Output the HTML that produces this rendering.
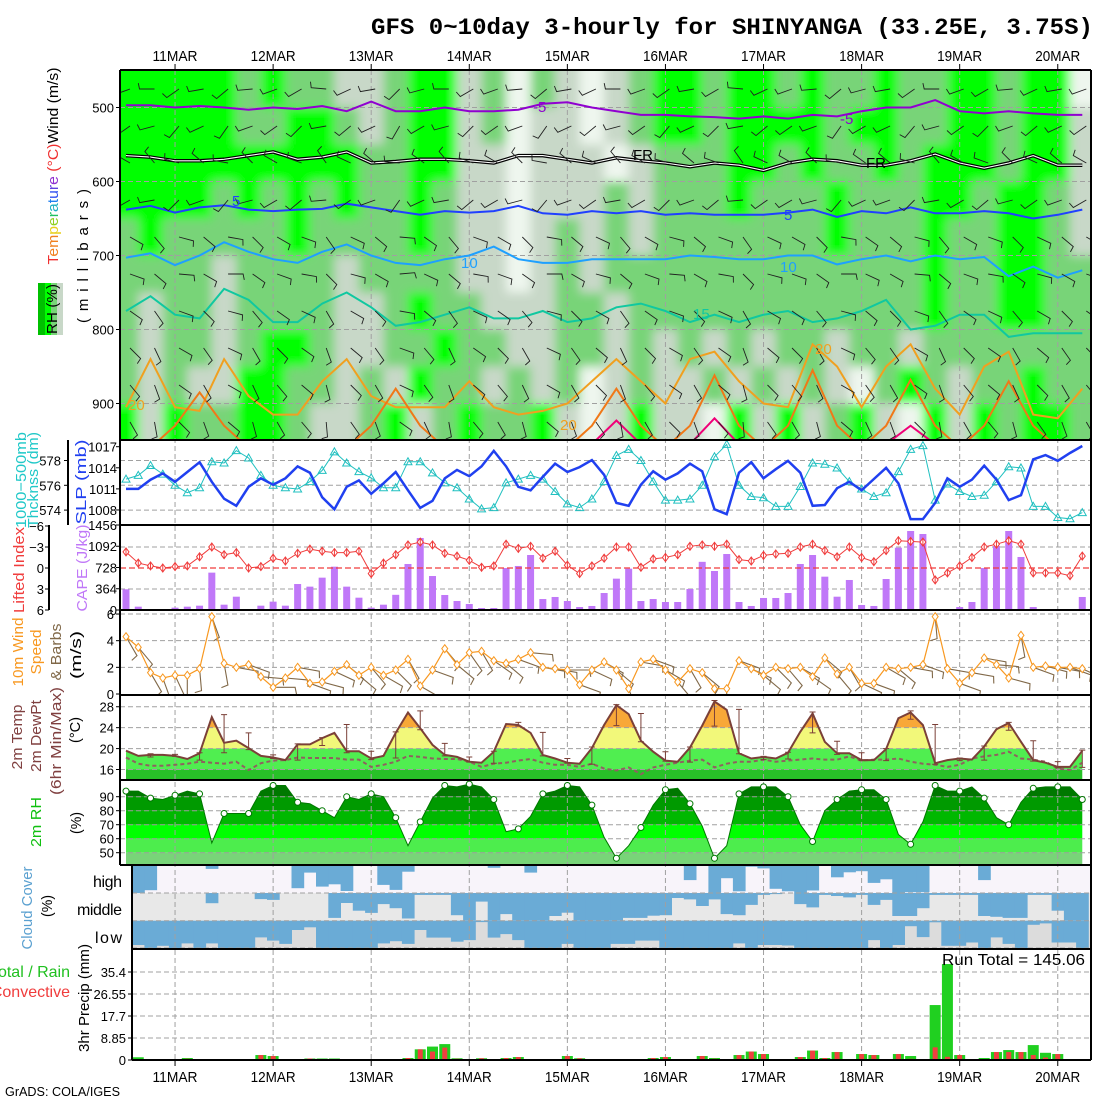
<!DOCTYPE html>
<html><head><meta charset="utf-8">
<style>
body{margin:0;background:#fff}
svg{display:block;font-family:"Liberation Sans",sans-serif}
.rl{font-size:15px}
.tk{font-size:13px;text-anchor:end}
</style></head>
<body>
<svg id="chart" width="1100" height="1100" viewBox="0 0 1100 1100">
<rect x="0" y="0" width="1100" height="1100" fill="#ffffff"/>
<defs id="defs">
<clipPath id="c1"><rect x="120" y="70" width="971" height="370"/></clipPath>
<clipPath id="c4"><rect x="120" y="610" width="971" height="85"/></clipPath>
<filter id="soft" x="-5%" y="-5%" width="110%" height="110%"><feGaussianBlur stdDeviation="5"/></filter>
</defs>
<g id="plots"></g>

<text x="732" y="34" font-family="Liberation Mono, monospace" font-size="23" font-weight="bold" text-anchor="middle" textLength="722" lengthAdjust="spacingAndGlyphs">GFS 0~10day 3-hourly for SHINYANGA (33.25E, 3.75S)</text>

<g>
<rect x="38" y="283" width="7" height="52" fill="#00c000"/><rect x="45" y="283" width="6" height="52" fill="#00ff00"/><rect x="51" y="283" width="6" height="52" fill="#78d478"/><rect x="57" y="283" width="6" height="52" fill="#c8d8c8"/>
</g>
<text class="rl" transform="translate(57,309) rotate(-90)" text-anchor="middle" textLength="50">RH (%)</text>
<text class="rl" transform="translate(58,166) rotate(-90)" text-anchor="middle" textLength="197" lengthAdjust="spacingAndGlyphs"><tspan fill="#f03030">T</tspan><tspan fill="#f08020">em</tspan><tspan fill="#e8d020">p</tspan><tspan fill="#90d020">e</tspan><tspan fill="#20c060">r</tspan><tspan fill="#20b0c0">a</tspan><tspan fill="#2080f0">t</tspan><tspan fill="#3050f0">u</tspan><tspan fill="#6040e0">r</tspan><tspan fill="#9030d0">e</tspan><tspan fill="#f03030"> (°C)</tspan><tspan fill="#000">Wind (m/s)</tspan></text>
<text class="rl" transform="translate(88,256) rotate(-90)" text-anchor="middle" textLength="134" lengthAdjust="spacing">(millibars)</text>
<text class="rl" fill="#20c8c8" transform="translate(26,480) rotate(-90)" text-anchor="middle" textLength="96" lengthAdjust="spacingAndGlyphs">1000−500mb</text>
<text class="rl" fill="#20c8c8" transform="translate(38,480) rotate(-90)" text-anchor="middle" textLength="96" lengthAdjust="spacingAndGlyphs">Thcknss (dm)</text>
<text class="rl" fill="#2040f0" transform="translate(86,482) rotate(-90)" text-anchor="middle" textLength="85" lengthAdjust="spacingAndGlyphs">SLP (mb)</text>
<text class="rl" fill="#f03c3c" transform="translate(24,570) rotate(-90)" text-anchor="middle" textLength="86" lengthAdjust="spacingAndGlyphs">Lifted Index</text>
<text class="rl" fill="#c078f8" transform="translate(87,568) rotate(-90)" text-anchor="middle" textLength="87" lengthAdjust="spacingAndGlyphs">CAPE (J/kg)</text>
<text class="rl" fill="#f89820" transform="translate(23,652) rotate(-90)" text-anchor="middle" textLength="69" lengthAdjust="spacingAndGlyphs">10m Wind</text>
<text class="rl" fill="#f89820" transform="translate(41,652) rotate(-90)" text-anchor="middle" textLength="45" lengthAdjust="spacingAndGlyphs">Speed</text>
<text class="rl" fill="#806848" transform="translate(61,652) rotate(-90)" text-anchor="middle" textLength="57" lengthAdjust="spacingAndGlyphs">&amp; Barbs</text>
<text class="rl" transform="translate(81,655) rotate(-90)" text-anchor="middle" textLength="48" lengthAdjust="spacingAndGlyphs">(m/s)</text>
<text class="rl" fill="#804040" transform="translate(22,737) rotate(-90)" text-anchor="middle" textLength="65" lengthAdjust="spacingAndGlyphs">2m Temp</text>
<text class="rl" fill="#804040" transform="translate(41,736) rotate(-90)" text-anchor="middle" textLength="72" lengthAdjust="spacingAndGlyphs">2m DewPt</text>
<text class="rl" fill="#804040" transform="translate(61,741) rotate(-90)" text-anchor="middle" textLength="108" lengthAdjust="spacingAndGlyphs">(6hr Min/Max)</text>
<text class="rl" transform="translate(80,730) rotate(-90)" text-anchor="middle" textLength="26" lengthAdjust="spacingAndGlyphs">(°C)</text>
<text class="rl" fill="#10c010" transform="translate(41,822) rotate(-90)" text-anchor="middle" textLength="50" lengthAdjust="spacingAndGlyphs">2m RH</text>
<text class="rl" transform="translate(81,823) rotate(-90)" text-anchor="middle" textLength="22" lengthAdjust="spacingAndGlyphs">(%)</text>
<text class="rl" fill="#5aa0d0" transform="translate(32,908) rotate(-90)" text-anchor="middle" textLength="83" lengthAdjust="spacingAndGlyphs">Cloud Cover</text>
<text class="rl" transform="translate(52,906) rotate(-90)" text-anchor="middle" textLength="22" lengthAdjust="spacingAndGlyphs">(%)</text>
<text x="122" y="887" font-size="16" text-anchor="end" textLength="29">high</text>
<text x="122" y="915" font-size="16" text-anchor="end" textLength="45">middle</text>
<text x="122" y="943" font-size="16" text-anchor="end" textLength="27">low</text>
<text class="rl" transform="translate(89,998) rotate(-90)" text-anchor="middle" textLength="108" lengthAdjust="spacingAndGlyphs">3hr Precip (mm)</text>
<text x="70" y="977" font-size="16" fill="#20c020" text-anchor="end">Total / Rain</text>
<text x="70" y="997" font-size="16" fill="#f03c3c" text-anchor="end">Convective</text>
<text x="942" y="965" font-size="16" textLength="143" lengthAdjust="spacingAndGlyphs">Run Total = 145.06</text>
<text x="5" y="1096" font-size="13" textLength="115" lengthAdjust="spacingAndGlyphs">GrADS: COLA/IGES</text>

<g font-size="15">
<text x="533" y="112" fill="#9000d0">-5</text><text x="840" y="124" fill="#9000d0">-5</text>
<text x="633" y="160" fill="#000">FR</text><text x="866" y="168" fill="#000">FR</text>
<text x="232" y="206" fill="#2040ff">5</text><text x="784" y="220" fill="#2040ff">5</text>
<text x="461" y="268" fill="#1ea0ff">10</text><text x="780" y="272" fill="#1ea0ff">10</text>
<text x="693" y="319" fill="#10c8a0">15</text><text x="815" y="354" fill="#f0a020">20</text><text x="560" y="430" fill="#f0a020">20</text>
<text x="128" y="410" fill="#f0a020">20</text>
</g>
</svg>
<script>
// ---------------- data ----------------
const dayLabels=['11MAR','12MAR','13MAR','14MAR','15MAR','16MAR','17MAR','18MAR','19MAR','20MAR'];
const dayIndex=[4,12,20,28,36,44,52,60,68,76];
const pressureTicks=[500,600,700,800,900];
const slpTicks=[1017,1014,1011,1008];
const thickTicks=[578,576,574];
const liTicks=[-6,-3,0,3,6];
const capeTicks=[1456,1092,728,364,0];
const windTicks=[6,4,2,0];
const tempTicks=[28,24,20,16];
const rhTicks=[90,80,70,60,50];
const precipTicks=[35.4,26.55,17.7,8.85,0];
const precipTickLabels=['35.4','26.55','17.7','8.85','0'];

const slp=[1011.0,1011.0,1012.3,1013.2,1012.0,1013.4,1014.8,1012.0,1009.6,1008.6,
1011.3,1012.5,1011.6,1012.5,1014.2,1013.3,1009.8,1008.1,1011.3,1012.2,
1010.3,1011.8,1013.4,1010.8,1008.3,1009.3,1012.5,1013.7,1012.8,1014.2,
1016.4,1014.2,1011.3,1010.8,1012.7,1014.6,1013.4,1014.1,1015.1,1013.0,
1009.0,1008.6,1011.6,1013.5,1012.3,1013.2,1014.6,1013.5,1008.1,1007.4,
1013.3,1014.8,1012.5,1013.8,1015.0,1013.3,1008.6,1008.7,1011.1,1012.0,
1010.8,1012.4,1014.0,1011.8,1006.7,1006.7,1009.0,1012.5,1011.3,1012.3,
1014.3,1012.3,1009.4,1010.1,1015.2,1015.8,1015.0,1016.1,1017.1];
const thickness=[576.5,576.8,577.6,576.9,576.0,575.4,575.8,577.9,577.8,578.8,
578.2,576.8,576.0,575.8,575.7,576.3,577.2,578.7,577.8,577.1,
576.6,575.8,575.8,577.9,577.9,577.0,576.2,575.8,574.9,574.1,
574.2,576.2,576.5,576.8,576.5,575.5,574.5,574.2,574.9,576.3,
578.4,578.9,578.0,576.3,574.8,574.8,574.9,576.0,578.3,579.3,
576.0,575.1,575.0,574.3,574.3,575.9,577.8,577.7,577.4,576.3,
575.7,575.1,575.4,577.1,578.9,579.2,574.8,576.1,575.5,575.1,
575.2,576.3,577.5,577.4,574.3,574.3,573.4,573.3,573.8];
const liftedIndex=[-2.3,-0.7,-0.3,0,-0.2,-0.3,-1.6,-3.0,-1.9,-2.2,
0,-0.2,-1.4,-1.0,-2.1,-2.7,-2.4,-2.2,-2.2,-2.4,
0.8,-0.7,-1.9,-3.3,-3.7,-3.3,-2.1,-1.7,-1.1,-0.1,
-0.3,-3.4,-2.8,-3.1,-1.4,-2.4,-0.4,0.8,-0.3,-1.4,
-3.0,-3.0,-0.1,-1.3,-1.5,-1.9,-3.1,-3.3,-3.1,-3.4,
-1.2,-1.0,-1.8,-2.0,-2.1,-3.0,-3.4,-2.5,-1.6,-3.0,
-1.5,-0.9,-2.5,-3.9,-3.8,-3.7,1.7,0.7,-0.3,-1.5,
-3.0,-3.4,-3.9,-3.4,0.7,0.7,0.7,1.1,-1.7];
const cape=[355,57,17,17,40,57,74,640,91,228,
17,74,143,74,445,400,554,742,400,211,
40,91,260,788,1233,582,257,154,103,34,
34,719,754,942,188,223,154,51,69,291,
537,708,154,188,137,137,360,825,668,959,
137,69,206,206,291,788,942,571,228,514,
86,69,531,1067,1353,1302,17,0,51,137,
719,1096,1353,908,51,0,0,0,223];
const windSpeed=[4.3,3.5,1.6,1.2,1.4,1.4,1.9,5.8,2.3,2.0,
2.2,1.3,0.5,1.2,2.0,0.8,0.9,1.7,2.2,1.4,
2.0,1.4,1.8,2.6,0.6,1.8,3.4,2.2,3.1,3.2,
2.5,2.3,2.6,3.1,2.0,1.9,1.8,0.7,1.8,2.4,
1.8,0.4,2.4,2.6,1.8,0.9,1.9,1.6,0.4,0.4,
2.5,1.9,1.4,2.0,1.9,2.0,1.3,2.7,1.5,2.0,
0.8,0.8,2.0,1.9,2.0,2.2,5.8,1.9,0.8,1.6,
2.7,2.2,1.2,4.4,2.0,2.1,2.0,2.0,1.9];
const windDir=[150,140,150,160,155,180,175,160,170,100,
110,95,90,95,100,110,105,115,130,130,
140,120,135,150,120,110,140,130,145,150,
125,130,110,95,100,100,90,110,115,120,
130,160,100,110,120,140,150,130,170,180,
110,115,130,135,140,120,125,130,140,150,
115,110,120,130,100,110,175,100,110,100,
100,95,105,170,110,105,100,110,115];
const temp2m=[19.6,18.6,18.8,18.8,18.6,18.0,19.1,26.0,21.1,21.5,
20.1,18.6,18.3,17.8,20.8,20.8,22.0,23.0,19.5,19.5,
18.1,18.6,23.0,26.9,23.9,20.7,18.8,18.4,17.5,17.3,
19.4,24.7,24.5,23.0,18.8,18.1,17.3,17.1,20.1,24.5,
28.3,26.6,21.5,19.4,17.7,17.5,20.2,24.4,29.0,27.4,
19.1,18.1,18.4,18.1,19.2,23.2,26.7,21.3,19.1,19.1,
17.8,17.8,19.9,25.8,26.9,24.5,17.2,17.8,18.1,17.9,
20.4,23.7,24.9,21.3,17.8,17.3,16.5,16.5,19.6];
const dew2m=[18.3,17.1,16.7,16.7,16.9,17.1,17.5,17.3,17.1,17.5,
15.9,17.2,17.7,17.8,18.3,18.2,18.2,18.2,17.9,17.9,
16.5,16.9,17.5,18.6,18.4,18.1,18.0,18.0,17.5,16.5,
17.1,17.3,17.7,18.0,17.3,16.9,16.9,16.5,17.1,16.2,
15.8,16.4,15.1,16.4,16.9,17.3,17.7,17.9,16.4,17.1,
17.5,17.5,17.9,17.5,17.7,17.9,18.1,17.9,17.9,18.5,
17.7,17.9,17.9,18.1,17.5,17.1,16.9,16.5,16.9,18.1,
18.5,18.8,19.4,18.1,17.9,17.5,16.2,15.9,17.3];
const minMaxIndex=[2,4,6,8,10,12,14,16,18,20,22,24,26,28,30,32,34,36,38,40,42,44,46,48,50,52,54,56,58,60,62,64,66,68,70,72,74,76,78];
const tmax6=[19.0,18.9,19.2,26.5,23.0,18.8,20.9,22.1,24.6,19.5,23.2,27.2,21.0,18.4,19.5,25.0,23.1,18.1,20.3,28.4,26.7,19.4,20.3,29.2,27.5,18.5,19.3,27.0,21.4,19.2,20.0,27.2,24.6,18.2,20.5,25.0,21.5,17.5,19.7];
const tmin6=[18.4,18.5,17.8,19.2,19.8,18.1,17.8,20.6,19.2,17.9,18.2,23.6,18.6,17.4,17.2,24.3,18.6,17.2,17.0,24.4,21.3,17.6,17.4,24.3,19.0,17.9,18.0,23.0,18.9,17.7,17.7,25.6,17.0,17.7,17.8,23.5,17.6,16.3,16.4];
const rh2m=[94,94,89,88,91,94,92,57,78,78,
78,94,98,98,86,85,80,75,90,88,
92,90,75,55,72,89,98,97,99,97,
88,65,67,76,92,94,98,97,84,61,
46,55,68,84,95,96,85,69,46,55,
92,97,97,97,90,70,58,80,88,94,
95,95,88,63,56,72,98,94,94,97,
89,75,70,86,96,97,97,97,88];
const cloudHigh=[100,100,90,0,0,0,0,14,0,0,
0,0,0,0,83,27,77,69,93,0,
0,71,89,24,0,0,0,0,0,0,
10,0,0,27,0,0,0,0,0,0,
0,0,0,0,0,0,54,0,100,47,
94,6,12,85,94,100,91,3,44,26,
22,64,51,100,97,97,0,0,0,0,
54,0,0,0,0,0,0,0,0];
const cloudMid=[0,0,0,0,0,0,0,37,0,0,
0,22,25,0,0,0,0,90,36,64,
72,40,55,92,7,7,7,80,100,31,
100,76,100,100,100,83,71,100,100,100,
100,90,90,82,80,18,23,47,23,76,
80,43,7,4,0,40,52,7,11,16,
7,43,25,83,83,55,7,7,7,7,
83,86,90,90,7,7,64,100,100];
const cloudLow=[89,89,100,92,100,83,100,83,100,100,
100,61,73,85,34,24,100,100,100,100,
100,83,75,85,34,62,62,77,71,5,
62,49,71,100,100,100,85,100,100,100,
85,85,73,73,100,100,100,100,100,100,
83,100,89,89,91,100,100,100,100,100,
100,71,100,89,20,60,6,92,92,80,
100,61,85,100,15,10,80,80,100];
const precipTotal=[0,1.1,0,0,0,0.8,0.4,0,0,0,
0,2.0,1.6,0,0.4,0.6,0.6,0.6,0,0,
0.4,0,0,0.8,4.3,5.4,6.4,0.7,0.2,0.7,
0,0.8,1.2,0.4,0.4,0,1.6,0.7,0,0,
0,0,0.4,0.8,1.2,0,0,1.6,0.8,0,
2.0,3.4,2.4,0.4,0.4,1.2,3.8,0.8,3.2,0,
2.4,2.0,0.4,2.4,1.6,0.4,22.1,38.6,2.0,0.4,
0.8,3.2,4.0,3.2,6.0,2.9,2.4,0.4,0];
const precipConv=[0,0,0,0,0,0.5,0.2,0,0,0,
0,2.0,1.6,0,0.2,0.6,0.4,0.4,0,0,
0.3,0,0,0.8,4.3,3.4,5.0,0.5,0.2,0.7,
0,0.8,1.2,0.4,0,0,1.6,0.7,0,0,
0,0,0,0.8,1.2,0,0,1.6,0.5,0,
2.0,3.4,2.4,0.4,0.4,1.2,3.8,0.8,3.2,0,
2.4,2.0,0.4,2.4,0.5,0,5.1,1.3,2.0,0,
0.4,3.2,3.2,3.2,2.0,1.0,2.4,0.4,0];
const rhRows=[
"3333323221"+"1233120210"+"1233233232"+"2322332330",
"3333322332"+"1233120110"+"1233233332"+"3322332331",
"3333333333"+"2233110111"+"0122233232"+"2323332331",
"3333232323"+"2232110111"+"2122232223"+"2223323321",
"2322222322"+"2232110121"+"2122222223"+"2223223321",
"2222122221"+"2222110121"+"2222222222"+"2223223322",
"2122122221"+"1232211122"+"1222222222"+"2223223322",
"2122123321"+"1223221122"+"1212121221"+"2212222222",
"2121133221"+"2132212120"+"1211212121"+"0232122322",
"3132233211"+"2312322310"+"1311031312"+"3103132332"];
const contourM5=[497,497,500,498,500,503,500,502,498,505,492,505,505,500,505,505,503,495,493,500,505,510,510,512,513,515,512,515,510,512,505,500,500,490,505,508,505,508,510,510];
const contour0=[565,567,572,572,570,565,560,570,567,560,575,573,570,570,572,575,565,565,570,575,568,572,575,580,575,578,585,575,570,572,578,578,572,563,575,582,575,565,578,578];
const contour5=[638,633,642,635,632,638,640,638,637,630,635,640,645,640,642,640,633,643,645,640,643,640,645,643,645,645,645,642,638,648,640,643,635,643,643,640,643,650,645,638];
const contour10=[703,697,713,700,682,695,705,710,695,685,700,710,713,705,700,688,705,710,710,705,705,705,705,700,702,705,705,700,700,712,705,700,708,700,705,702,728,715,730,720];
const contour15=[775,755,780,785,745,760,790,790,765,750,770,795,790,780,770,785,785,775,790,785,770,765,775,790,780,790,780,775,790,785,775,760,800,795,780,780,810,805,805,805];
const contour20=[905,840,905,910,840,890,915,915,870,840,890,905,905,905,870,905,915,910,900,870,840,870,900,840,830,870,900,905,820,850,905,850,820,880,915,850,830,915,920,880];
const contour25=[960,960,930,885,930,960,960,960,960,960,930,880,930,960,960,960,960,960,960,930,880,930,960,930,862,930,960,930,855,930,960,930,868,930,960,930,870,930,960,960];
const contour30=[960,960,960,960,960,960,960,960,960,960,960,960,960,960,960,960,960,960,960,955,923,955,960,955,920,955,960,960,960,960,960,955,930,955,960,960,960,960,960,960];
const barbLevelDir=[250,235,300,240,120,110,125,135,140,150];
const barbColShift=[0,20,-15,10,-20,15,0,-10,25,-5,10,-25,5,20,-10,0,15,-20,10,-5,20,0,-15,10,-10,25,-5,0,15,-20,5,10,-15,20,0,-10,15,-5,10,0];

// ---------------- helpers ----------------
const NS='http://www.w3.org/2000/svg';
const plots=document.getElementById('plots');
const defs=document.getElementById('defs');
function mk(tag,attrs,parent){const e=document.createElementNS(NS,tag);for(const k in attrs)e.setAttribute(k,attrs[k]);(parent||plots).appendChild(e);return e;}
const L=120,R=1091,L2=132,DX=12.26;
function X(i){return 126+i*DX;}
function yP(p){return 70.5+(p-450)*0.74;}
function ySlp(v){return 446.7+(1017-v)*7.03;}
function yThk(v){return 460.5+(578-v)*12.4;}
function yLI(v){return 568+v*7;}
function yCape(v){return 610-v*0.05838;}
function yWs(v){return 694-v*13.33;}
function yT(v){return 769.5-(v-16)*5.23;}
function yRH(v){return 796.7-(v-90)*1.4;}
function yPr(v){return 1060-v*2.486;}
function pathOf(arr,xf,yf){return arr.map((v,i)=>(i?'L':'M')+xf(i).toFixed(1)+','+yf(v).toFixed(1)).join(' ');}
const rhCol={'0':'#eef6ee','1':'#c8d8c8','2':'#78d478','3':'#00ff00'};

// ---------------- panel 1: RH cross-section ----------------
const g1=mk('g',{'clip-path':'url(#c1)'});


const g1bg=mk('rect',{x:L,y:70,width:R-L,height:370,fill:'#78d478'},g1);


const g1s=mk('g',{filter:'url(#soft)'},g1);


rhRows.forEach((row,r)=>{
  for(let c=0;c<40;c++){
    const x0=X(2*c)-DX-(c===0?12:0),x1=X(2*c)+DX+(c===39?12:0);
    const y0=yP(450+50*r)-(r===0?12:0),h=37.6+(r===0||r===9?12:0);
    const cell=mk('rect',{x:x0.toFixed(1),y:y0.toFixed(1),width:(x1-x0+0.6).toFixed(1),height:h,fill:rhCol[row[c]]},g1s);
    
    
  }
});
// temp-panel fill
const tc=mk('clipPath',{id:'tclip'},defs);
mk('polygon',{points:temp2m.map((v,i)=>X(i)+','+yT(v)).join(' ')+' '+X(78)+',780 '+X(0)+',780'},tc);
const tBands=[[30,24,'#f8a838'],[24,20,'#f2f87a'],[20,16,'#50ee50'],[16,10,'#28c028']];
const gT=mk('g',{'clip-path':'url(#tclip)'});


tBands.forEach(b=>{
  const br=mk('rect',{x:L,y:yT(b[0]),width:R-L,height:yT(b[1])-yT(b[0]),fill:b[2]},gT);
  
  
});
// RH 2m fill
const rc=mk('clipPath',{id:'rclip'},defs);
mk('polygon',{points:rh2m.map((v,i)=>X(i)+','+yRH(v)).join(' ')+' '+X(78)+',865 '+X(0)+',865'},rc);
const rBands=[[110,90,'#007800'],[90,80,'#009a00'],[80,70,'#00b800'],[70,60,'#00ff00'],[60,50,'#4ded4d'],[50,30,'#78d478']];
const gR=mk('g',{'clip-path':'url(#rclip)'});


rBands.forEach(b=>{
  const br=mk('rect',{x:L,y:Math.max(780,yRH(b[0])),width:R-L,height:Math.min(865,yRH(b[1]))-Math.max(780,yRH(b[0])),fill:b[2]},gR);
  
  
});
// clouds
const bands=[[cloudHigh,865,28,'#f8f4fa','high'],[cloudMid,893,27.7,'#e8e8e8','middle'],[cloudLow,920.7,27.3,'#dcdcdc','low']];
bands.forEach(b=>{
  const bg=mk('rect',{x:L2,y:b[1],width:R-L2,height:b[2],fill:b[3]});
  
  
  b[0].forEach((v,i)=>{
    const x0=Math.max(L2,X(i)-DX/2),x1=Math.min(R,X(i)+DX/2);
    if(x1<=x0||v<=0)return;
    const cr=mk('rect',{x:x0.toFixed(1),y:b[1],width:(x1-x0+0.4).toFixed(1),height:(b[2]*v/100).toFixed(1),fill:'#6aabd6'});
    
    
  });
});

// ---------------- grid lines ----------------
const grid=mk('g',{stroke:'#a0a0a0','stroke-width':1,'stroke-dasharray':'5,3',fill:'none'});


dayIndex.forEach(i=>{
  const gl=mk('line',{x1:X(i),x2:X(i),y1:70,y2:1060},grid);
  
  
});
function hgrid(y,x0,name){const l=mk('line',{x1:x0||L,x2:R,y1:y,y2:y},grid);}
pressureTicks.forEach(p=>hgrid(yP(p),L,'pressure-grid'));
thickTicks.forEach(v=>hgrid(yThk(v),L,'thickness-grid'));
[-3,3].forEach(v=>hgrid(yLI(v),L,'li-grid'));
windTicks.slice(0,3).forEach(v=>hgrid(yWs(v),L,'wind-grid'));
tempTicks.forEach(v=>hgrid(yT(v),L,'temp-grid'));
rhTicks.forEach(v=>hgrid(yRH(v),L,'rh-grid'));
[893,920.7,948].forEach(v=>hgrid(v,L2,'cloud-grid'));
precipTicks.slice(0,4).forEach(v=>hgrid(yPr(v),L2,'precip-grid'));

// ---------------- panel 1 contours & barbs ----------------
const contours=[[contourM5,'#9000d0',2],[contour5,'#2040ff',2],[contour10,'#1ea0ff',2],[contour15,'#10c8a0',2],[contour20,'#f0a020',2],[contour25,'#f07818',2],[contour30,'#f00078',2]];
const gC=mk('g',{'clip-path':'url(#c1)',fill:'none'});


contours.forEach(c=>{
  const p=mk('path',{d:pathOf(c[0],k=>X(2*k),yP),stroke:c[1],'stroke-width':c[2]},gC);
  
  
});
const fr1=mk('path',{d:pathOf(contour0,k=>X(2*k),yP),stroke:'#000','stroke-width':3.5},gC);


const fr2=mk('path',{d:pathOf(contour0,k=>X(2*k),yP),stroke:'#fff','stroke-width':1.1},gC);


const gB=mk('g',{'clip-path':'url(#c1)',stroke:'#202020','stroke-width':0.9,fill:'none'});


for(let r=0;r<10;r++){for(let c=0;c<40;c++){
  const a=(barbLevelDir[r]+barbColShift[c])*Math.PI/180;
  const x=X(2*c)+4,y=yP(475+50*r);
  const ex=x+Math.sin(a)*15,ey=y-Math.cos(a)*15;
  const bx=ex+Math.sin(a+Math.PI/2.3)*6,by=ey-Math.cos(a+Math.PI/2.3)*6;
  const bp=mk('path',{d:`M${x.toFixed(1)},${y.toFixed(1)} L${ex.toFixed(1)},${ey.toFixed(1)} L${bx.toFixed(1)},${by.toFixed(1)}`},gB);
  
  
}}

// ---------------- panel 2 ----------------
const thkLine=mk('path',{d:pathOf(thickness,X,yThk),stroke:'#20c0c0','stroke-width':1,fill:'none'});


thickness.forEach((v,i)=>{const x=X(i),y=yThk(v);
  const m=mk('path',{d:`M${x},${y-4} L${x+4},${y+3} L${x-4},${y+3} Z`,stroke:'#20c0c0',fill:'none','stroke-width':1});
  
  });
const slpLine=mk('path',{d:pathOf(slp,X,ySlp),stroke:'#2040f0','stroke-width':2.5,fill:'none'});



// ---------------- panel 3 ----------------
cape.forEach((v,i)=>{if(v<=0)return;
  const x0=Math.max(L+1,X(i)-3.5);
  const b=mk('rect',{x:x0,y:yCape(v),width:X(i)+3.5-x0,height:610-yCape(v),fill:'#c078f8'});
  
  });
const li0=mk('line',{x1:L,x2:R,y1:yLI(0),y2:yLI(0),stroke:'#f03c3c','stroke-dasharray':'6,3','stroke-width':1.2});


const liLine=mk('path',{d:pathOf(liftedIndex,X,yLI),stroke:'#f03c3c','stroke-width':1,fill:'none'});


liftedIndex.forEach((v,i)=>{const x=X(i),y=yLI(v);
  const m=mk('path',{d:`M${x},${y-4} L${x+3},${y} L${x},${y+4} L${x-3},${y} Z M${x},${y-4} L${x},${y+4}`,stroke:'#f03c3c',fill:'#fff','stroke-width':1});
  
  });

// ---------------- panel 4 ----------------
const gW=mk('g',{stroke:'#806848','stroke-width':1.1,fill:'none','clip-path':'url(#c4)'});


windDir.forEach((d,i)=>{const a=d*Math.PI/180,x=X(i),y=yWs(windSpeed[i]);
  const ex=x+Math.sin(a)*22,ey=y-Math.cos(a)*22;
  const bx=ex+Math.sin(a+Math.PI/2.3)*7,by=ey-Math.cos(a+Math.PI/2.3)*7;
  const p=mk('path',{d:`M${x.toFixed(1)},${y.toFixed(1)} L${ex.toFixed(1)},${ey.toFixed(1)} L${bx.toFixed(1)},${by.toFixed(1)}`},gW);
  
  });
const wsLine=mk('path',{d:pathOf(windSpeed,X,yWs),stroke:'#f89820','stroke-width':1.2,fill:'none'});


windSpeed.forEach((v,i)=>{const x=X(i),y=yWs(v);
  const m=mk('path',{d:`M${x},${y-4} L${x+3},${y} L${x},${y+4} L${x-3},${y} Z`,stroke:'#f89820',fill:'#fff','stroke-width':1});
  
  });

// ---------------- panel 5 ----------------
const dewLine=mk('path',{d:pathOf(dew2m,X,yT),stroke:'#906060','stroke-width':2,'stroke-dasharray':'4,3',fill:'none'});


const tLine=mk('path',{d:pathOf(temp2m,X,yT),stroke:'#7b4038','stroke-width':2,fill:'none'});


minMaxIndex.forEach((i,k)=>{const x=X(i),y1=yT(tmax6[k]),y2=yT(tmin6[k]);
  const mm=mk('path',{d:`M${x},${y1} L${x},${y2} M${x-3},${y1} L${x+3},${y1} M${x-3},${y2} L${x+3},${y2}`,stroke:'#7b4038','stroke-width':1,fill:'none'});
  
  });

// ---------------- panel 6 ----------------
const rhLine=mk('path',{d:pathOf(rh2m,X,yRH),stroke:'#007800','stroke-width':1,fill:'none'});


rh2m.forEach((v,i)=>{if(i%2)return;
  const c=mk('circle',{cx:X(i),cy:yRH(v),r:3,fill:'#fff',stroke:'#007800','stroke-width':1});
  
  });

// ---------------- panel 8 ----------------
precipTotal.forEach((v,i)=>{if(v<=0)return;
  const x0=Math.max(L2+1,X(i)-5.5);
  const b=mk('rect',{x:x0,y:yPr(v),width:X(i)+5.5-x0,height:1060-yPr(v),fill:'#20d020'});
  
  
  if(precipConv[i]>0){
    const c=mk('rect',{x:X(i)-2.5,y:yPr(precipConv[i]),width:5,height:1060-yPr(precipConv[i]),fill:'#f04040'});
    
    }
});

// ---------------- frames & axes ----------------
const fr=mk('g',{stroke:'#000','stroke-width':2,fill:'none'});


[[L,70,R,70],[L,440,R,440],[L,525,R,525],[L,610,R,610],[L,695,R,695],[L,780,R,780],[L,865,R,865],[L2,949,R,949],[L2,1060,R,1060],[L,70,L,865],[L2,865,L2,1060],[R,70,R,1060],[68,440,68,525],[49,525,49,610]].forEach(s=>{
  const l=mk('line',{x1:s[0],y1:s[1],x2:s[2],y2:s[3]},fr);
  
  });
function tick(x,y,txt,name,ax,anchorX){
  const t=mk('line',{x1:ax-4,x2:ax,y1:y,y2:y,stroke:'#000','stroke-width':1});
  
  
  const tx=mk('text',{x:anchorX,y:y+5,class:'tk'});
  tx.textContent=txt;
  
  
}
pressureTicks.forEach(p=>tick(0,yP(p),String(p),'pressure-axis',L,114));
slpTicks.forEach(v=>tick(0,ySlp(v),String(v),'slp-axis',L,117));
thickTicks.forEach(v=>tick(0,yThk(v),String(v),'thickness-axis',68,61));
liTicks.forEach(v=>tick(0,yLI(v),v<0?'−'+(-v):String(v),'li-axis',49,44));
capeTicks.forEach(v=>tick(0,yCape(v),String(v),'cape-axis',L,117));
windTicks.forEach(v=>tick(0,yWs(v),String(v),'wind-axis',L,114));
tempTicks.forEach(v=>tick(0,yT(v),String(v),'temp-axis',L,114));
rhTicks.forEach(v=>tick(0,yRH(v),String(v),'rh-axis',L,114));
precipTicks.forEach((v,k)=>tick(0,yPr(v),precipTickLabels[k],'precip-axis',L2,126));
dayIndex.forEach((i,k)=>{
  const x=X(i);
  const t1=mk('line',{x1:x,x2:x,y1:64,y2:70,stroke:'#000','stroke-width':1});
  
  
  const a=mk('text',{x:x,y:61,'font-size':15,'text-anchor':'middle',textLength:45,lengthAdjust:'spacingAndGlyphs'});
  a.textContent=dayLabels[k];
  
  
  const t2=mk('line',{x1:x,x2:x,y1:1060,y2:1066,stroke:'#000','stroke-width':1});
  
  
  const b=mk('text',{x:x,y:1082,'font-size':15,'text-anchor':'middle',textLength:45,lengthAdjust:'spacingAndGlyphs'});
  b.textContent=dayLabels[k];
  
  
});
</script>
</body></html>
